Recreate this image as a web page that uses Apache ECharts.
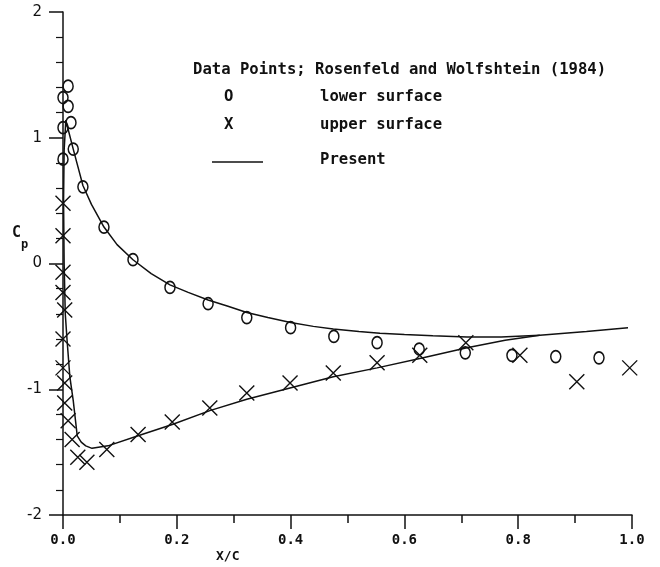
<!DOCTYPE html>
<html>
<head>
<meta charset="utf-8">
<script src="https://cdn.jsdelivr.net/npm/echarts@6/dist/echarts.min.js"></script>
<style>html,body{margin:0;padding:0;background:#fff}#c{width:660px;height:567px}</style>
</head>
<body>
<div id="c"></div>
<script>
// ---- data ----
const xTickLabels = ['0.0', '0.2', '0.4', '0.6', '0.8', '1.0'];
const yTickLabels = ['-2', '-1', '0', '1', '2'];

const lowerX = [0.009, 0.0, 0.009, 0.014, 0.0, 0.018, 0.0, 0.035, 0.072, 0.123, 0.188, 0.255, 0.323, 0.40, 0.476, 0.552, 0.626, 0.707, 0.789, 0.866, 0.942];
const lowerCp = [1.41, 1.32, 1.25, 1.12, 1.08, 0.91, 0.83, 0.61, 0.29, 0.03, -0.19, -0.32, -0.43, -0.51, -0.58, -0.63, -0.68, -0.71, -0.73, -0.74, -0.75];

const upperX = [0.0, 0.0, 0.0, 0.0, 0.003, 0.0, 0.0, 0.003, 0.003, 0.009, 0.016, 0.026, 0.042, 0.077, 0.132, 0.192, 0.258, 0.323, 0.399, 0.475, 0.552, 0.627, 0.708, 0.803, 0.903, 0.996];
const upperCp = [0.48, 0.22, -0.07, -0.23, -0.37, -0.60, -0.83, -0.95, -1.11, -1.25, -1.40, -1.54, -1.58, -1.48, -1.36, -1.26, -1.15, -1.03, -0.95, -0.87, -0.79, -0.73, -0.63, -0.73, -0.94, -0.83];

const presLowerX = [0.005, 0.010, 0.018, 0.025, 0.035, 0.050, 0.072, 0.095, 0.123, 0.155, 0.188, 0.220, 0.255, 0.290, 0.323, 0.360, 0.400, 0.440, 0.475, 0.520, 0.557, 0.600, 0.650, 0.710, 0.770, 0.838];
const presLowerCp = [1.14, 1.05, 0.91, 0.79, 0.62, 0.47, 0.29, 0.15, 0.03, -0.08, -0.17, -0.23, -0.29, -0.34, -0.39, -0.43, -0.47, -0.50, -0.52, -0.54, -0.555, -0.565, -0.575, -0.585, -0.585, -0.57];

const presUpperX = [0.005, 0.002, 0.001, 0.002, 0.004, 0.007, 0.012, 0.018, 0.025, 0.032, 0.040, 0.051, 0.079, 0.132, 0.192, 0.258, 0.323, 0.399, 0.475, 0.552, 0.633, 0.710, 0.777, 0.838, 0.920, 0.993];
const presUpperCp = [1.14, 0.90, 0.50, 0.00, -0.40, -0.60, -0.90, -1.09, -1.37, -1.42, -1.45, -1.47, -1.45, -1.37, -1.28, -1.17, -1.08, -0.99, -0.90, -0.83, -0.75, -0.67, -0.61, -0.57, -0.54, -0.51];

const legendTitle = 'Data Points; Rosenfeld and Wolfshtein (1984)';
const legendLower = 'lower surface';
const legendUpper = 'upper surface';
const legendPresent = 'Present';

// ---- build ----
const zip = (a, b) => a.map((v, i) => [v, b[i]]);
const mono = '"DejaVu Sans Mono", "Liberation Mono", monospace';
const black = '#111';
const legFont = 'bold 15.6px ' + mono;

const chart = echarts.init(document.getElementById('c'), null, {renderer: 'canvas'});
chart.setOption({
  backgroundColor: '#fff',
  animation: false,
  grid: {left: 63, right: 28, top: 12, bottom: 52, containLabel: false},
  xAxis: {
    type: 'value', min: 0, max: 1, interval: 0.2,
    axisLine: {show: true, onZero: false, lineStyle: {color: black, width: 1.5}},
    axisTick: {show: true, inside: false, length: 14, lineStyle: {color: black, width: 1.5}},
    minorTick: {show: true, splitNumber: 2, length: 8, lineStyle: {color: black, width: 1.5}},
    splitLine: {show: false},
    axisLabel: {
      margin: 18, color: black, fontFamily: mono, fontWeight: 'bold', fontSize: 14,
      formatter: (v) => xTickLabels[Math.round(v / 0.2)]
    }
  },
  yAxis: {
    type: 'value', min: -2, max: 2, interval: 1,
    axisLine: {show: true, onZero: false, lineStyle: {color: black, width: 1.5}},
    axisTick: {show: true, inside: false, length: 14, lineStyle: {color: black, width: 1.5}},
    minorTick: {show: true, splitNumber: 5, length: 7, lineStyle: {color: black, width: 1.2}},
    splitLine: {show: false},
    axisLabel: {
      margin: 21, color: black, fontFamily: '"DejaVu Sans", sans-serif', fontSize: 15,
      formatter: (v) => yTickLabels[Math.round(v) + 2]
    }
  },
  series: [
    {
      name: 'Present lower', type: 'line', data: zip(presLowerX, presLowerCp),
      showSymbol: false, symbol: 'none', smooth: false,
      lineStyle: {color: black, width: 1.5}, z: 2
    },
    {
      name: 'Present upper', type: 'line', data: zip(presUpperX, presUpperCp),
      showSymbol: false, symbol: 'none', smooth: false,
      lineStyle: {color: black, width: 1.5}, z: 2
    },
    {
      name: 'lower surface', type: 'scatter', data: zip(lowerX, lowerCp),
      symbol: 'circle', symbolSize: [10, 12],
      itemStyle: {color: 'rgba(255,255,255,0)', borderColor: black, borderWidth: 1.6, opacity: 1}, z: 3
    },
    {
      name: 'upper surface', type: 'scatter', data: zip(upperX, upperCp),
      symbol: 'path://M0,0L10,10M10,0L0,10', symbolSize: [15, 15],
      itemStyle: {color: 'none', borderColor: black, borderWidth: 1.4, opacity: 1}, z: 3
    }
  ],
  graphic: [
    {type: 'text', left: 193, top: 62, style: {text: legendTitle, font: legFont, fill: black}},
    {type: 'text', left: 224, top: 89, style: {text: 'O', font: legFont, fill: black}},
    {type: 'text', left: 320, top: 89, style: {text: legendLower, font: legFont, fill: black}},
    {type: 'text', left: 224, top: 117, style: {text: 'X', font: legFont, fill: black}},
    {type: 'text', left: 320, top: 117, style: {text: legendUpper, font: legFont, fill: black}},
    {type: 'line', shape: {x1: 212, y1: 162, x2: 263, y2: 162}, style: {stroke: black, lineWidth: 1.5}},
    {type: 'text', left: 320, top: 152, style: {text: legendPresent, font: legFont, fill: black}},
    {type: 'text', left: 12, top: 226, style: {text: 'C', font: 'bold 15px ' + mono, fill: black}},
    {type: 'text', left: 21, top: 239, style: {text: 'p', font: 'bold 12px ' + mono, fill: black}},
    {type: 'text', left: 216, top: 550, style: {text: 'X/C', font: 'bold 13px ' + mono, fill: black}}
  ]
});
</script>
</body>
</html>
